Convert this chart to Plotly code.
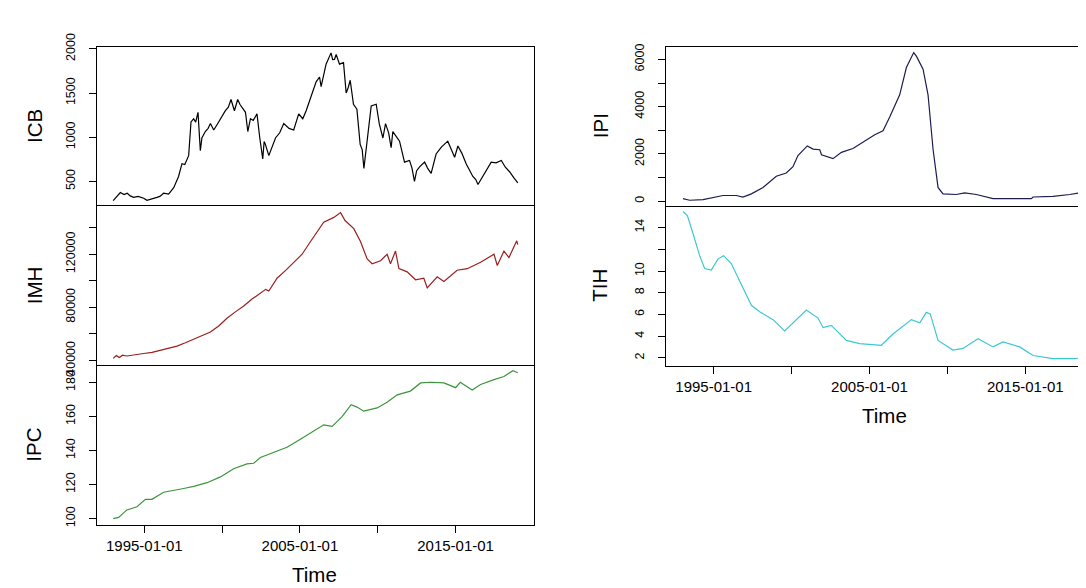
import plotly.graph_objects as go

# ---------------- data (decimal year, value) ----------------
icb = [(1993.0, 282), (1993.25, 330), (1993.46, 373), (1993.7, 350), (1993.9, 366), (1994.1, 335),
       (1994.31, 319), (1994.6, 330), (1994.96, 308), (1995.17, 286), (1995.5, 300), (1995.81, 319),
       (1996.0, 330), (1996.24, 366), (1996.56, 355), (1996.89, 428), (1997.2, 555), (1997.42, 700),
       (1997.6, 690), (1997.74, 737), (1997.85, 791), (1998.0, 1173), (1998.17, 1209), (1998.3, 1170),
       (1998.45, 1282), (1998.6, 846), (1998.7, 991), (1998.92, 1064), (1999.1, 1100), (1999.25, 1154),
       (1999.46, 1082), (1999.7, 1150), (1999.89, 1209), (2000.05, 1250), (2000.21, 1300), (2000.4, 1340),
       (2000.57, 1427), (2000.79, 1300), (2001.0, 1427), (2001.15, 1370), (2001.28, 1336), (2001.5, 1282),
       (2001.65, 1064), (2001.82, 1209), (2002.0, 1190), (2002.24, 1264), (2002.42, 991), (2002.61, 755),
       (2002.7, 950), (2002.78, 919), (2003.0, 791), (2003.2, 880), (2003.43, 991), (2003.7, 1050),
       (2003.96, 1154), (2004.3, 1100), (2004.6, 1082), (2004.92, 1264), (2005.18, 1209), (2005.4, 1300),
       (2005.61, 1409), (2006.04, 1627), (2006.26, 1682), (2006.36, 1573), (2006.68, 1827), (2007.0, 1955),
       (2007.1, 1880), (2007.22, 1882), (2007.33, 1936), (2007.54, 1827), (2007.8, 1845), (2007.97, 1500),
       (2008.1, 1560), (2008.23, 1645), (2008.44, 1373), (2008.66, 1318), (2008.87, 919), (2009.0, 860),
       (2009.11, 646), (2009.36, 1064), (2009.58, 1355), (2009.9, 1373), (2010.1, 1150), (2010.33, 991),
       (2010.5, 1154), (2010.7, 1050), (2010.86, 882), (2010.97, 1064), (2011.2, 1000), (2011.4, 955),
       (2011.72, 718), (2012.04, 737), (2012.2, 650), (2012.36, 500), (2012.5, 620), (2012.69, 664),
       (2013.01, 718), (2013.2, 650), (2013.43, 591), (2013.75, 810), (2014.1, 890), (2014.5, 955),
       (2014.94, 773), (2015.15, 900), (2015.4, 820), (2015.68, 700), (2016.11, 555), (2016.3, 520),
       (2016.44, 464), (2016.87, 591), (2017.29, 718), (2017.6, 710), (2017.94, 737), (2018.2, 660),
       (2018.47, 609), (2018.75, 540), (2019.0, 482)]

imh = [(1993.0, 41400), (1993.2, 43500), (1993.4, 42000), (1993.6, 43800), (1993.88, 43200),
       (1994.4, 44300), (1994.96, 45100), (1995.5, 46000), (1996.03, 47500), (1996.6, 48800),
       (1997.1, 50650), (1997.6, 53000), (1998.17, 55900), (1998.7, 58500), (1999.25, 61300),
       (1999.8, 66000), (2000.31, 71700), (2000.85, 76500), (2001.39, 80900), (2001.9, 86000),
       (2002.46, 91000), (2002.8, 93500), (2003.0, 92200), (2003.53, 101900), (2004.1, 108000),
       (2004.6, 113900), (2005.14, 120000), (2005.68, 129600), (2006.1, 137000), (2006.53, 144100),
       (2007.18, 147800), (2007.61, 151400), (2007.9, 145400), (2008.46, 139300), (2008.89, 129600),
       (2009.32, 116400), (2009.64, 112800), (2010.18, 115100), (2010.6, 120000), (2010.82, 112800),
       (2011.14, 122400), (2011.36, 109100), (2011.89, 106700), (2012.43, 100700), (2012.96, 101900),
       (2013.18, 94600), (2013.82, 103000), (2014.25, 99400), (2015.1, 107900), (2015.75, 109100),
       (2016.61, 113900), (2017.47, 120000), (2017.68, 111500), (2018.11, 122400), (2018.43, 117500),
       (2018.93, 130100), (2019.0, 127200)]

ipc = [(1993.0, 100.0), (1993.35, 100.7), (1993.88, 105.1), (1994.53, 107.0), (1995.07, 111.3),
       (1995.49, 111.3), (1996.24, 115.5), (1996.89, 116.8), (1997.53, 117.7), (1998.17, 118.9),
       (1999.03, 121.1), (1999.89, 124.5), (2000.74, 129.3), (2001.6, 132.1), (2002.03, 132.5),
       (2002.46, 135.9), (2003.32, 139.1), (2004.17, 141.9), (2005.03, 146.6), (2005.89, 151.7),
       (2006.53, 155.1), (2007.07, 154.2), (2007.71, 159.9), (2008.29, 166.9), (2008.67, 165.5),
       (2009.1, 163.1), (2009.96, 165.0), (2010.6, 168.4), (2011.25, 172.7), (2012.1, 174.9),
       (2012.75, 179.7), (2013.39, 180.1), (2014.25, 179.7), (2015.0, 176.9), (2015.3, 180.1),
       (2016.07, 175.5), (2016.61, 178.8), (2017.47, 181.6), (2018.11, 183.5), (2018.68, 186.9),
       (2019.0, 185.7)]

ipi = [(1993.03, 110), (1993.46, 41), (1994.32, 69), (1995.6, 243), (1996.45, 243), (1996.88, 178),
       (1997.42, 312), (1998.17, 584), (1999.02, 1055), (1999.66, 1193), (2000.09, 1460), (2000.41, 1935),
       (2001.01, 2341), (2001.38, 2207), (2001.81, 2178), (2001.92, 1963), (2002.66, 1801), (2003.2, 2069),
       (2003.94, 2231), (2004.59, 2503), (2005.34, 2815), (2005.87, 2978), (2006.3, 3558), (2006.94, 4503),
       (2007.37, 5655), (2007.84, 6288), (2008.02, 6126), (2008.44, 5586), (2008.76, 4503), (2009.08, 2207),
       (2009.4, 584), (2009.72, 312), (2010.57, 284), (2011.11, 353), (2011.86, 284), (2012.93, 110),
       (2014.21, 110), (2015.39, 110), (2015.5, 178), (2016.78, 203), (2017.85, 284), (2018.39, 341),
       (2019.03, 312)]

tih = [(1993.03, 15.47), (1993.31, 15.09), (1993.67, 13.47), (1994.1, 11.41), (1994.42, 10.23),
       (1994.85, 10.08), (1995.28, 11.12), (1995.64, 11.41), (1996.13, 10.68), (1996.77, 8.76),
       (1997.42, 6.85), (1997.95, 6.26), (1998.81, 5.53), (1999.56, 4.5), (2000.3, 5.53), (2000.95, 6.41),
       (2001.7, 5.67), (2002.02, 4.79), (2002.55, 5.0), (2003.52, 3.62), (2004.37, 3.32), (2005.76, 3.17),
       (2006.51, 4.2), (2007.69, 5.53), (2008.23, 5.23), (2008.65, 6.2), (2008.9, 6.06), (2009.4, 3.62),
       (2010.36, 2.73), (2011.0, 2.88), (2011.97, 3.77), (2012.93, 3.02), (2013.57, 3.47), (2014.64, 3.02),
       (2015.5, 2.23), (2016.78, 1.94), (2018.06, 1.94), (2019.03, 2.05)]

x_tickvals = [1995, 2000, 2005, 2010, 2015]
x_ticktext = ["1995-01-01", "", "2005-01-01", "", "2015-01-01"]

icb_ticks = [500, 1000, 1500, 2000]
icb_text = ["500", "1000", "1500", "2000"]
imh_ticks = [40000, 60000, 80000, 100000, 120000, 140000]
imh_text = ["40000", "", "80000", "", "120000", ""]
ipc_ticks = [100, 120, 140, 160, 180]
ipc_text = ["100", "120", "140", "160", "180"]
ipi_ticks = [0, 1000, 2000, 3000, 4000, 5000, 6000]
ipi_text = ["0", "", "2000", "", "4000", "", "6000"]
tih_ticks = [2, 4, 6, 8, 10, 12, 14]
tih_text = ["2", "4", "6", "8", "10", "", "14"]

# ---------------- layout geometry (pixels) ----------------
W, H = 1086, 588
FONT = "Liberation Sans, Arial, sans-serif"


def fy(p):
    return 1 - p / H


left_dom = [89 / W, 526 / W]
right_dom = [658.3 / W, 1.0]
left_xr = [1991.96, 2020.04]
right_xr = [1991.96, 1991.96 + (W - 658.3) / 15.58]

panels = [
    dict(data=icb, color="#000000", dom=left_dom, xr=left_xr, top=26.7, bot=192.3,
         yr=[227, 2026], tv=icb_ticks, tt=icb_text, bottom=False, mirror=True, xmirror=True),
    dict(data=imh, color="#9A1F1F", dom=left_dom, xr=left_xr, top=192.3, bot=358.5,
         yr=[36520, 156800], tv=imh_ticks, tt=imh_text, bottom=False, mirror=True, xmirror=False),
    dict(data=ipc, color="#3A963A", dom=left_dom, xr=left_xr, top=358.5, bot=525,
         yr=[96.5, 190.3], tv=ipc_ticks, tt=ipc_text, bottom=True, mirror=True, xmirror=False),
    dict(data=ipi, color="#1C1C50", dom=right_dom, xr=right_xr, top=26.7, bot=192.5,
         yr=[-187, 6540], tv=ipi_ticks, tt=ipi_text, bottom=False, mirror=False, xmirror=True),
    dict(data=tih, color="#3CC8D2", dom=right_dom, xr=right_xr, top=192.5, bot=359.5,
         yr=[1.28, 16.01], tv=tih_ticks, tt=tih_text, bottom=True, mirror=False, xmirror=False),
]

fig = go.Figure()
layout = dict(
    width=W, height=H, margin=dict(l=0, r=0, t=0, b=0),
    paper_bgcolor="white", plot_bgcolor="white", showlegend=False,
    font=dict(family=FONT, color="#000000", size=14),
    hovermode=False,
)

for i, p in enumerate(panels, start=1):
    t, v = zip(*p["data"])
    sx = "" if i == 1 else str(i)
    fig.add_trace(go.Scatter(x=list(t), y=list(v), mode="lines",
                             line=dict(color=p["color"], width=1.2),
                             xaxis="x" + sx, yaxis="y" + sx))
    layout["xaxis" + sx] = dict(
        domain=p["dom"], range=p["xr"], anchor="y" + sx,
        showline=True, mirror=p["xmirror"], linecolor="#000000", linewidth=1,
        showgrid=False, zeroline=False,
        ticks="outside" if p["bottom"] else "", ticklen=7, tickcolor="#000000",
        showticklabels=p["bottom"], tickvals=x_tickvals, ticktext=x_ticktext,
        tickfont=dict(size=15, family=FONT, color="#000000"),
    )
    layout["yaxis" + sx] = dict(
        domain=[fy(p["bot"]), fy(p["top"])], range=p["yr"], anchor="x" + sx,
        showline=True, mirror=p["mirror"], linecolor="#000000", linewidth=1,
        showgrid=False, zeroline=False,
        ticks="outside", ticklen=7, tickcolor="#000000",
        tickvals=p["tv"], ticktext=p["tt"], tickangle=-90, ticklabelstandoff=9,
        tickfont=dict(size=12.5, family=FONT, color="#000000"),
    )

fig.update_layout(**layout)

# axis titles
titles = [("ICB", 26, (26.7 + 192.3) / 2), ("IMH", 26, (192.3 + 358.5) / 2), ("IPC", 26, (358.5 + 525) / 2),
          ("IPI", 592, (26.7 + 192.5) / 2), ("TIH", 592, (192.5 + 359.5) / 2)]
for txt, xp, yp in titles:
    fig.add_annotation(text=txt, x=xp / W, y=fy(yp), xref="paper", yref="paper",
                       textangle=-90, showarrow=False, xanchor="center", yanchor="middle",
                       font=dict(size=20.5, family=FONT, color="#000000"))
for xp, yp in [(306, 577), (876.5, 411.5)]:
    fig.add_annotation(text="Time", x=xp / W, y=fy(yp), xref="paper", yref="paper",
                       showarrow=False, xanchor="center", yanchor="middle",
                       font=dict(size=20.5, family=FONT, color="#000000"))

fig.write_html("out.html")
